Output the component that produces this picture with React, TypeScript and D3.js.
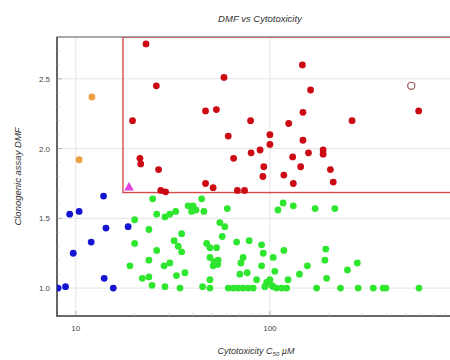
import React from 'react';
import * as d3 from 'd3';

// cytotoxicity C50 (uM) vs clonogenic assay DMF
const redPts: [number, number][] = [
  [23, 2.75], [26, 2.45], [58, 2.51], [19.6, 2.2], [46.6, 2.27], [53, 2.28], [79.5, 2.2],
  [61, 2.09], [100, 2.1], [100, 2.03], [89, 1.99], [80, 1.97], [65, 1.93], [21.4, 1.93],
  [21.6, 1.89], [26.7, 1.85], [93, 1.87], [92, 1.8], [46.6, 1.75], [51, 1.72], [27.4, 1.7],
  [29, 1.69], [68, 1.7], [74, 1.7], [147, 2.6], [162, 2.42], [148, 2.26], [125, 2.18],
  [265, 2.2], [584, 2.27], [148, 2.06], [158, 1.97], [188, 1.99], [188, 1.96], [131, 1.94],
  [144, 1.87], [118, 1.81], [205, 1.85], [132, 1.75], [212, 1.76]
];
const openPts: [number, number][] = [[535, 2.45]];
const magentaPts: [number, number][] = [[18.8, 1.72]];
const orangePts: [number, number][] = [[12.1, 2.37], [10.4, 1.92]];
const bluePts: [number, number][] = [
  [13.9, 1.66], [9.3, 1.53], [10.4, 1.55], [14.3, 1.43], [18.6, 1.44], [12.0, 1.33],
  [9.7, 1.25], [14.0, 1.07], [15.6, 1.0], [8.1, 1.0], [8.85, 1.01]
];
const greenPts: [number, number][] = [
  [24.9, 1.64], [20.1, 1.49], [26.1, 1.53], [23.8, 1.42], [20.1, 1.32], [26.1, 1.27],
  [23.8, 1.2], [19.0, 1.16], [22.0, 1.07], [23.8, 1.08], [24.7, 1.02],
  [44.5, 1.64], [28.8, 1.51], [30.5, 1.53], [32.7, 1.55], [37.9, 1.59], [40.2, 1.59],
  [39.5, 1.55], [41.6, 1.56], [45.7, 1.55], [60.3, 1.57], [55.2, 1.47], [58.6, 1.44],
  [35.1, 1.39], [32.1, 1.34], [33.7, 1.3], [35.1, 1.26], [56.8, 1.37], [47.2, 1.32],
  [49.1, 1.29], [53.1, 1.29], [67.4, 1.33], [78.2, 1.34], [90.6, 1.31], [92.4, 1.25],
  [49.1, 1.22], [51.6, 1.19], [54.1, 1.2], [53.8, 1.17], [51.0, 1.16], [28.5, 1.16],
  [30.5, 1.18], [72.8, 1.22], [70.9, 1.18], [104, 1.22], [106, 1.12], [90.6, 1.16],
  [36.5, 1.11], [33.0, 1.09], [70.0, 1.1], [76.4, 1.11], [49.1, 1.06], [85.4, 1.06],
  [28.8, 1.01], [34.4, 1.0], [45.0, 1.01], [49.1, 1.0], [61, 1.0], [64.7, 1.0],
  [68.6, 1.0], [72.8, 1.0], [77.3, 1.0], [82, 1.0], [96.2, 1.04], [100, 1.06],
  [94.2, 1.01], [104, 1.01], [108, 1.0], [117, 1.61], [110, 1.56], [132, 1.59],
  [171, 1.57], [216, 1.57], [118, 1.27], [194, 1.28], [192, 1.2], [282, 1.18],
  [156, 1.16], [251, 1.13], [142, 1.1], [196, 1.07], [124, 1.06], [102, 1.02],
  [115, 1.0], [122, 1.0], [174, 1.0], [231, 1.0], [285, 1.0], [341, 1.0], [383, 1.0],
  [396, 1.0], [586, 1.0]
];
const xTicks = [10, 100];
const yTicks = [1.0, 1.5, 2.0, 2.5];
const boxLow: [number, number] = [17.5, 1.685];

const W = 450, H = 360;
const left = 57, top = 37, bottom = 316, right = 464;

export default function App() {
  const x = d3.scaleLog().domain([8, 1000]).range([left, right]);
  const y = d3.scaleLinear().domain([0.8, 2.8]).range([bottom, top]);

  const minorX = [9, 20, 30, 40, 50, 60, 70, 80, 90, 200, 300, 400, 500, 600, 700, 800, 900];
  const minorY = d3.range(0.9, 2.8, 0.1).filter(v => Math.abs((v * 10) % 5) > 0.01);

  const font = '"Liberation Sans", Arial, sans-serif';
  const dot = (pts: [number, number][], color: string, key: string) =>
    pts.map((d, i) => (
      <circle key={key + i} cx={x(d[0])} cy={y(d[1])} r={3.4} fill={color} />
    ));

  return (
    <svg width={W} height={H} style={{position: 'absolute', left: 0, top: 0, background: '#fff'}}
      fontFamily={font}>
      <defs>
        <clipPath id="plot">
          <rect x={left} y={top} width={right - left} height={bottom - top} />
        </clipPath>
      </defs>
      <text x={260} y={22} textAnchor="middle" fontSize={9.5} fontStyle="italic" fill="#333">
        DMF vs Cytotoxicity
      </text>

      {/* grid */}
      {yTicks.map(t => (
        <line key={'gy' + t} x1={left} x2={right} y1={y(t)} y2={y(t)} stroke="#e4e4e4" />
      ))}
      {xTicks.map(t => (
        <line key={'gx' + t} x1={x(t)} x2={x(t)} y1={top} y2={bottom} stroke="#e4e4e4" />
      ))}

      {/* frame */}
      <rect x={left} y={top} width={right - left} height={bottom - top} fill="none" stroke="#555" strokeWidth={1} />
      <line x1={left} x2={left} y1={top} y2={bottom + 1} stroke="#555" strokeWidth={1.6} />
      <line x1={left} x2={right} y1={bottom} y2={bottom} stroke="#555" strokeWidth={1.6} />

      {/* minor ticks */}
      {minorX.map(t => (
        <line key={'mx' + t} x1={x(t)} x2={x(t)} y1={bottom} y2={bottom - 3} stroke="#bbb" strokeWidth={0.6} />
      ))}
      {xTicks.map(t => (
        <line key={'tx' + t} x1={x(t)} x2={x(t)} y1={bottom} y2={bottom - 5} stroke="#999" strokeWidth={0.7} />
      ))}
      {minorY.map(t => (
        <line key={'my' + t} x1={left} x2={left + 3} y1={y(t)} y2={y(t)} stroke="#bbb" strokeWidth={0.6} />
      ))}
      {yTicks.map(t => (
        <line key={'ty' + t} x1={left} x2={left + 5} y1={y(t)} y2={y(t)} stroke="#999" strokeWidth={0.7} />
      ))}

      {/* tick labels */}
      {xTicks.map(t => (
        <text key={'lx' + t} x={x(t)} y={331} textAnchor="middle" fontSize={8} fill="#444">{t}</text>
      ))}
      {yTicks.map(t => (
        <text key={'ly' + t} x={50} y={y(t) + 3} textAnchor="end" fontSize={8} fill="#444">{t.toFixed(1)}</text>
      ))}

      {/* axis titles */}
      <text x={256} y={354} textAnchor="middle" fontSize={9} fontStyle="italic" fill="#333">
        Cytotoxicity C<tspan fontSize={6} dy={2}>50</tspan><tspan dy={-2}> µM</tspan>
      </text>
      <text transform={`translate(21,${(top + bottom) / 2}) rotate(-90)`} textAnchor="middle"
        fontSize={9.5} fontStyle="italic" fill="#333">
        Clonogenic assay DMF
      </text>

      <g clipPath="url(#plot)">
        <rect x={x(boxLow[0])} y={top} width={right - x(boxLow[0])} height={y(boxLow[1]) - top}
          fill="none" stroke="#d44a4a" strokeWidth={1.4} />
        {dot(greenPts, '#2fe62f', 'g')}
        {dot(bluePts, '#1414d2', 'b')}
        {dot(orangePts, '#f0a040', 'o')}
        {dot(redPts, '#cc0a14', 'r')}
        {openPts.map((d, i) => (
          <circle key={'op' + i} cx={x(d[0])} cy={y(d[1])} r={3.6} fill="#fff" stroke="#a05a5a" strokeWidth={1.2} />
        ))}
        {magentaPts.map((d, i) => (
          <path key={'m' + i} transform={`translate(${x(d[0])},${y(d[1])})`}
            d={d3.symbol(d3.symbolTriangle, 40)() || ''} fill="#e040e0" />
        ))}
      </g>
    </svg>
  );
}
